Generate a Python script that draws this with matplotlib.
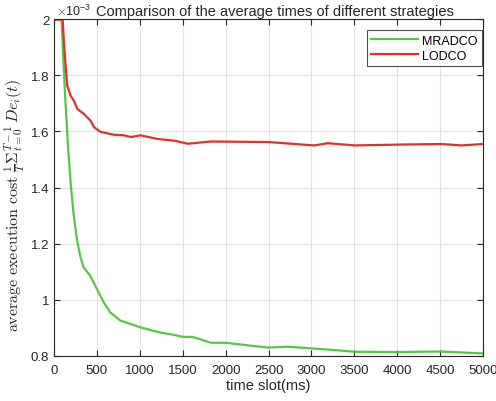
import matplotlib
matplotlib.use("Agg")
import matplotlib.pyplot as plt

# data (values in units of 1e-3)
t_mradco = [0, 88, 107, 130, 154, 161, 195, 226, 265, 304, 343, 421, 500, 578, 656, 773, 890, 1007,
            1244, 1400, 1500, 1614, 1828, 2000, 2257, 2500, 2724, 3000, 3310, 3500, 4000, 4500, 5000]
v_mradco = [2.0, 2.0, 1.86, 1.72, 1.597, 1.55, 1.41, 1.31, 1.217, 1.157, 1.116, 1.086, 1.038, 0.991, 0.955, 0.926, 0.914, 0.902,
            0.883, 0.875, 0.868, 0.868, 0.847, 0.847, 0.838, 0.830, 0.833, 0.827, 0.820, 0.815, 0.814, 0.816, 0.809]

t_lodco = [0, 100, 115, 134, 154, 193, 232, 271, 348, 426, 465, 543, 699, 816, 894, 1010, 1205, 1400, 1516,
           1556, 1828, 2500, 2763, 3035, 3190, 3502, 4010, 4515, 4749, 5000]
v_lodco = [1.998, 1.998, 1.917, 1.834, 1.762, 1.727, 1.709, 1.680, 1.662, 1.638, 1.615, 1.598, 1.588, 1.586, 1.580, 1.586, 1.573, 1.567, 1.559,
           1.556, 1.564, 1.562, 1.556, 1.550, 1.558, 1.550, 1.553, 1.555, 1.550, 1.555]

xticks = [0, 500, 1000, 1500, 2000, 2500, 3000, 3500, 4000, 4500, 5000]
yticks = [0.8, 1.0, 1.2, 1.4, 1.6, 1.8, 2.0]
ytick_labels = ["0.8", "1", "1.2", "1.4", "1.6", "1.8", "2"]

plt.rcParams['font.family'] = ['Liberation Sans', 'DejaVu Sans']
plt.rcParams['mathtext.fontset'] = 'cm'

fig = plt.figure(figsize=(4.96, 4.02), dpi=100)
ax = fig.add_axes([0.109, 0.112, 0.865, 0.838])

green = '#57c647'
red = '#e0312a'
ax.plot(t_mradco, v_mradco, color=green, lw=1.6, label='MRADCO')
ax.plot(t_lodco, v_lodco, color=red, lw=1.6, label='LODCO')

ax.set_xlim(0, 5000)
ax.set_ylim(0.8, 2.0)
ax.set_xticks(xticks)
ax.set_xticklabels([str(x) for x in xticks])
ax.set_yticks(yticks)
ax.set_yticklabels(ytick_labels)

axc = '#262626'
for s in ax.spines.values():
    s.set_color(axc)
    s.set_linewidth(0.8)
ax.tick_params(direction='in', top=True, right=True, length=4, width=0.8,
               colors=axc, labelsize=9.5, labelcolor='#262626')
ax.tick_params(axis='x', pad=6)
ax.grid(True, color='#e3e3e3', lw=0.8)
ax.set_axisbelow(True)

ax.set_xlabel('time slot(ms)', fontsize=10.5, color='#262626', labelpad=1)
ax.set_ylabel(r'$\mathrm{average\ execution\ cost}\ \frac{1}{T}\Sigma_{t=0}^{T-1}\, De_i(t)$',
              fontsize=11.5, color='#262626')
ax.yaxis.set_label_coords(-0.06, 0.451)
ax.set_title('Comparison of the average times of different strategies', fontsize=10.5,
             color='#262626', pad=3, x=0.515)
ax.text(0.005, 1.002, r'$\times\mathregular{10^{-3}}$', transform=ax.transAxes, fontsize=9,
        ha='left', va='bottom', color='#262626')

leg = ax.legend(loc='upper right', fontsize=9, frameon=True, fancybox=False,
                edgecolor='#262626', handlelength=3.7, borderpad=0.35,
                labelspacing=0.25, handletextpad=0.35, borderaxespad=0,
                bbox_to_anchor=(0.997, 0.967))
leg.get_frame().set_linewidth(0.8)

fig.savefig('out.png', dpi=100)
